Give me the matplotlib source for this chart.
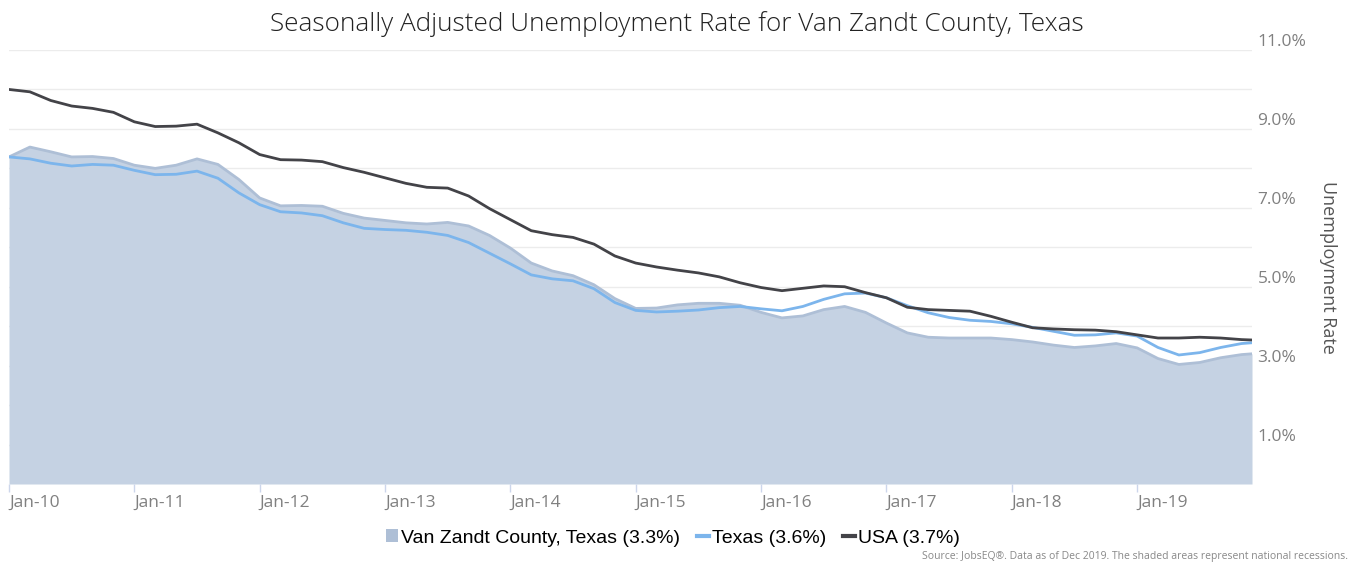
import matplotlib
matplotlib.use("Agg")
import matplotlib.pyplot as plt
from matplotlib.patches import Patch
from matplotlib.lines import Line2D

# month offsets from Jan-2010 (every other month, plus Dec-2019)
months = list(range(0, 119, 2)) + [119]

van_zandt = [
    8.29, 8.54, 8.42, 8.29, 8.30, 8.25, 8.08, 8.00, 8.08, 8.24,
    8.10, 7.72, 7.25, 7.05, 7.06, 7.04, 6.86, 6.74, 6.68, 6.62,
    6.59, 6.63, 6.54, 6.30, 5.98, 5.60, 5.40, 5.28, 5.05, 4.70,
    4.45, 4.46, 4.54, 4.58, 4.58, 4.53, 4.35, 4.21, 4.26, 4.42,
    4.50, 4.35, 4.08, 3.83, 3.72, 3.70, 3.70, 3.70, 3.66, 3.60,
    3.52, 3.46, 3.50, 3.56, 3.45, 3.18, 3.03, 3.08, 3.20, 3.28,
    3.30,
]
texas = [
    8.29, 8.24, 8.13, 8.06, 8.10, 8.08, 7.95, 7.84, 7.85, 7.93,
    7.75, 7.38, 7.08, 6.90, 6.87, 6.80, 6.62, 6.48, 6.45, 6.43,
    6.38, 6.30, 6.12, 5.85, 5.58, 5.30, 5.20, 5.15, 4.95, 4.60,
    4.40, 4.36, 4.38, 4.41, 4.47, 4.50, 4.44, 4.39, 4.50, 4.68,
    4.82, 4.84, 4.72, 4.52, 4.34, 4.22, 4.15, 4.12, 4.06, 3.97,
    3.87, 3.77, 3.78, 3.83, 3.75, 3.46, 3.27, 3.33, 3.46, 3.56,
    3.58,
]
usa = [
    10.00, 9.94, 9.72, 9.58, 9.52, 9.42, 9.18, 9.06, 9.07, 9.12,
    8.90, 8.65, 8.35, 8.22, 8.21, 8.17, 8.02, 7.90, 7.76, 7.62,
    7.52, 7.50, 7.30, 6.98, 6.70, 6.42, 6.32, 6.25, 6.08, 5.78,
    5.60, 5.50, 5.42, 5.35, 5.25, 5.10, 4.98, 4.90, 4.96, 5.02,
    5.00, 4.85, 4.72, 4.48, 4.42, 4.40, 4.38, 4.25, 4.10, 3.96,
    3.93, 3.91, 3.90, 3.86, 3.78, 3.70, 3.70, 3.72, 3.70, 3.66,
    3.65,
]

tick_months = list(range(0, 120, 12))
tick_labels = ["Jan-10", "Jan-11", "Jan-12", "Jan-13", "Jan-14",
               "Jan-15", "Jan-16", "Jan-17", "Jan-18", "Jan-19"]
y_ticks = [1, 3, 5, 7, 9, 11]

AREA_FILL = "#c5d2e3"
AREA_EDGE = "#aebfd6"
TEXAS_BLUE = "#7cb5ec"
USA_DARK = "#434348"
GRAY = "#808080"

fig = plt.figure(figsize=(13.54, 5.63), dpi=100)
ax = fig.add_axes([9 / 1354, 1 - 484 / 563, (1252 - 9) / 1354, (484 - 50) / 563])

# horizontal grid every 1%
for g in range(1, 12):
    ax.axhline(g, color="#ececec", lw=1, zorder=0)

line_kw = dict(lw=2, solid_joinstyle="round", solid_capstyle="round")
ax.fill_between(months, van_zandt, 0, color=AREA_FILL, lw=0, zorder=1)
ax.plot(months, van_zandt, color=AREA_EDGE, zorder=2, **line_kw)
ax.plot(months, texas, color=TEXAS_BLUE, zorder=3, **line_kw)
ax.plot(months, usa, color=USA_DARK, zorder=4, **line_kw)

ax.set_xlim(0, 119)
ax.set_ylim(0, 11)
for s in ax.spines.values():
    s.set_visible(False)

ax.set_xticks(tick_months)
ax.set_xticklabels(tick_labels, ha="left", fontsize=12.5, color=GRAY,
                   family="Open Sans")
ax.tick_params(axis="x", length=6, width=1, color="#ccd6eb", pad=2)

ax.yaxis.tick_right()
ax.set_yticks(y_ticks)
ax.set_yticklabels([f"{v:.1f}%" for v in y_ticks], fontsize=12.5,
                   color=GRAY, va="bottom", family="Open Sans")
ax.tick_params(axis="y", length=0, pad=4)
ax.yaxis.set_label_position("right")
ax.set_ylabel("Unemployment Rate", rotation=270, labelpad=22, fontsize=13,
              color="#555555", family="Open Sans")

fig.text(0.5, 1 - 24 / 563, "Seasonally Adjusted Unemployment Rate for Van Zandt County, Texas",
         ha="center", va="center", fontsize=18.8, color="#222222",
         family="Open Sans", fontweight="light")

handles = [
    Patch(facecolor="#aebfd6", edgecolor="none"),
    Line2D([0], [0], color=TEXAS_BLUE, lw=3),
    Line2D([0], [0], color=USA_DARK, lw=3),
]
labels = ["Van Zandt County, Texas (3.3%)", "Texas (3.6%)", "USA (3.7%)"]
fig.legend(handles, labels, loc="center", bbox_to_anchor=(673 / 1354, 1 - 538 / 563),
           ncol=3, frameon=False, handlelength=0.6, handleheight=0.6,
           handletextpad=0.15, columnspacing=0.9,
           prop={"family": "Liberation Sans", "size": 14})

fig.text(1348 / 1354, 1 - 556 / 563,
         "Source: JobsEQ\u00ae. Data as of Dec 2019. The shaded areas represent national recessions.",
         ha="right", va="center", fontsize=7.5, color="#888888",
         family="Open Sans")

fig.savefig("out.png", dpi=100)
